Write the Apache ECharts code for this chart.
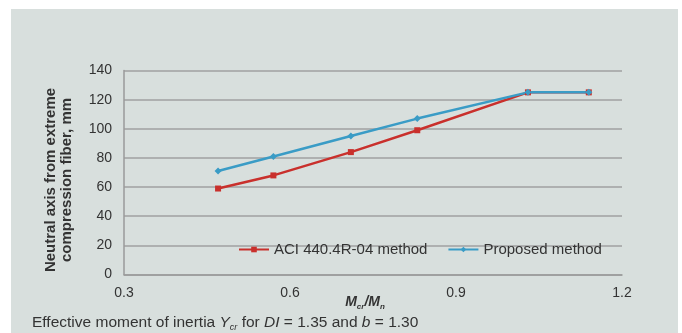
<!DOCTYPE html>
<html>
<head>
<meta charset="utf-8">
<script src="https://cdn.jsdelivr.net/npm/echarts@6/dist/echarts.min.js"></script>
<style>
html,body{margin:0;padding:0;background:#ffffff;}
#chart{width:682px;height:333px;}
</style>
</head>
<body>
<div id="chart"></div>
<script>
var ratioX = [0.47, 0.57, 0.71, 0.83, 1.03, 1.14];
var aciValues = [59, 68, 84, 99, 125, 125];
var proposedValues = [71, 81, 95, 107, 125, 125];
var seriesNames = ['ACI 440.4R-04 method', 'Proposed method'];
var yTitleLines = ['Neutral axis from extreme', 'compression fiber, mm'];

function pairs(xs, ys) { return xs.map(function (x, i) { return [x, ys[i]]; }); }

var chart = echarts.init(document.getElementById('chart'), null, {renderer: 'canvas'});
var font = '"Liberation Sans", Arial, sans-serif';
chart.setOption({
  backgroundColor: '#ffffff',
  animation: false,
  textStyle: {fontFamily: font},
  grid: {left: 124, right: 60, top: 70.5, bottom: 58.5},
  legend: {
    left: 233, top: 237,
    itemWidth: 30, itemHeight: 7, itemGap: 20,
    textStyle: {fontSize: 15, color: '#333', fontFamily: font},
    data: seriesNames
  },
  xAxis: {
    type: 'value', min: 0.3, max: 1.2, interval: 0.3,
    axisLine: {show: true, lineStyle: {color: '#9a9a9a', width: 1.5}},
    axisTick: {show: false},
    splitLine: {show: false},
    axisLabel: {margin: 12, fontSize: 14, color: '#333', formatter: function (v) { return v.toFixed(1); }}
  },
  yAxis: {
    type: 'value', min: 0, max: 140, interval: 20,
    axisLine: {show: true, lineStyle: {color: '#9a9a9a', width: 1.5}},
    axisTick: {show: false},
    splitLine: {show: true, lineStyle: {color: '#a0a0a0', width: 1.5}},
    axisLabel: {margin: 12, fontSize: 14, color: '#333'}
  },
  graphic: [
    {type: 'rect', z: -10, silent: true, shape: {x: 11, y: 9, width: 667, height: 330}, style: {fill: '#d8dfdd'}},
    {type: 'text', x: 59, y: 180, rotation: Math.PI / 2, silent: true,
     style: {text: yTitleLines.join('\n'), fontFamily: font, fontWeight: 'bold', fontSize: 15, lineHeight: 16,
             fill: '#333', align: 'center', verticalAlign: 'middle'}},
    {type: 'text', x: 365, y: 302, silent: true,
     style: {text: '{m|M}{s|cr}{m|/M}{s|n}', align: 'center', verticalAlign: 'middle', fill: '#333',
             rich: {
               m: {fontFamily: font, fontWeight: 'bold', fontStyle: 'italic', fontSize: 14, lineHeight: 18, fill: '#333'},
               s: {fontFamily: font, fontWeight: 'bold', fontStyle: 'italic', fontSize: 8, lineHeight: 18, verticalAlign: 'bottom', fill: '#333'}
             }}},
    {type: 'text', x: 32, y: 323, silent: true,
     style: {text: '{n|Effective moment of inertia }{i|Y}{s|cr}{n| for }{i|DI}{n| = 1.35 and }{i|b}{n| = 1.30}',
             align: 'left', verticalAlign: 'middle', fill: '#333',
             rich: {
               n: {fontFamily: font, fontSize: 15.5, lineHeight: 18, fill: '#333'},
               i: {fontFamily: font, fontStyle: 'italic', fontSize: 15.5, lineHeight: 18, fill: '#333'},
               s: {fontFamily: font, fontStyle: 'italic', fontSize: 9, lineHeight: 18, verticalAlign: 'bottom', fill: '#333'}
             }}}
  ],
  series: [
    {name: seriesNames[0], type: 'line', data: pairs(ratioX, aciValues),
     symbol: 'rect', symbolSize: 6, color: '#c9302c',
     lineStyle: {color: '#c9302c', width: 2.5}, itemStyle: {color: '#c9302c'}},
    {name: seriesNames[1], type: 'line', data: pairs(ratioX, proposedValues),
     symbol: 'diamond', symbolSize: 7, color: '#3a9cc6',
     lineStyle: {color: '#3a9cc6', width: 2.5}, itemStyle: {color: '#3a9cc6'}}
  ]
});
</script>
</body>
</html>
